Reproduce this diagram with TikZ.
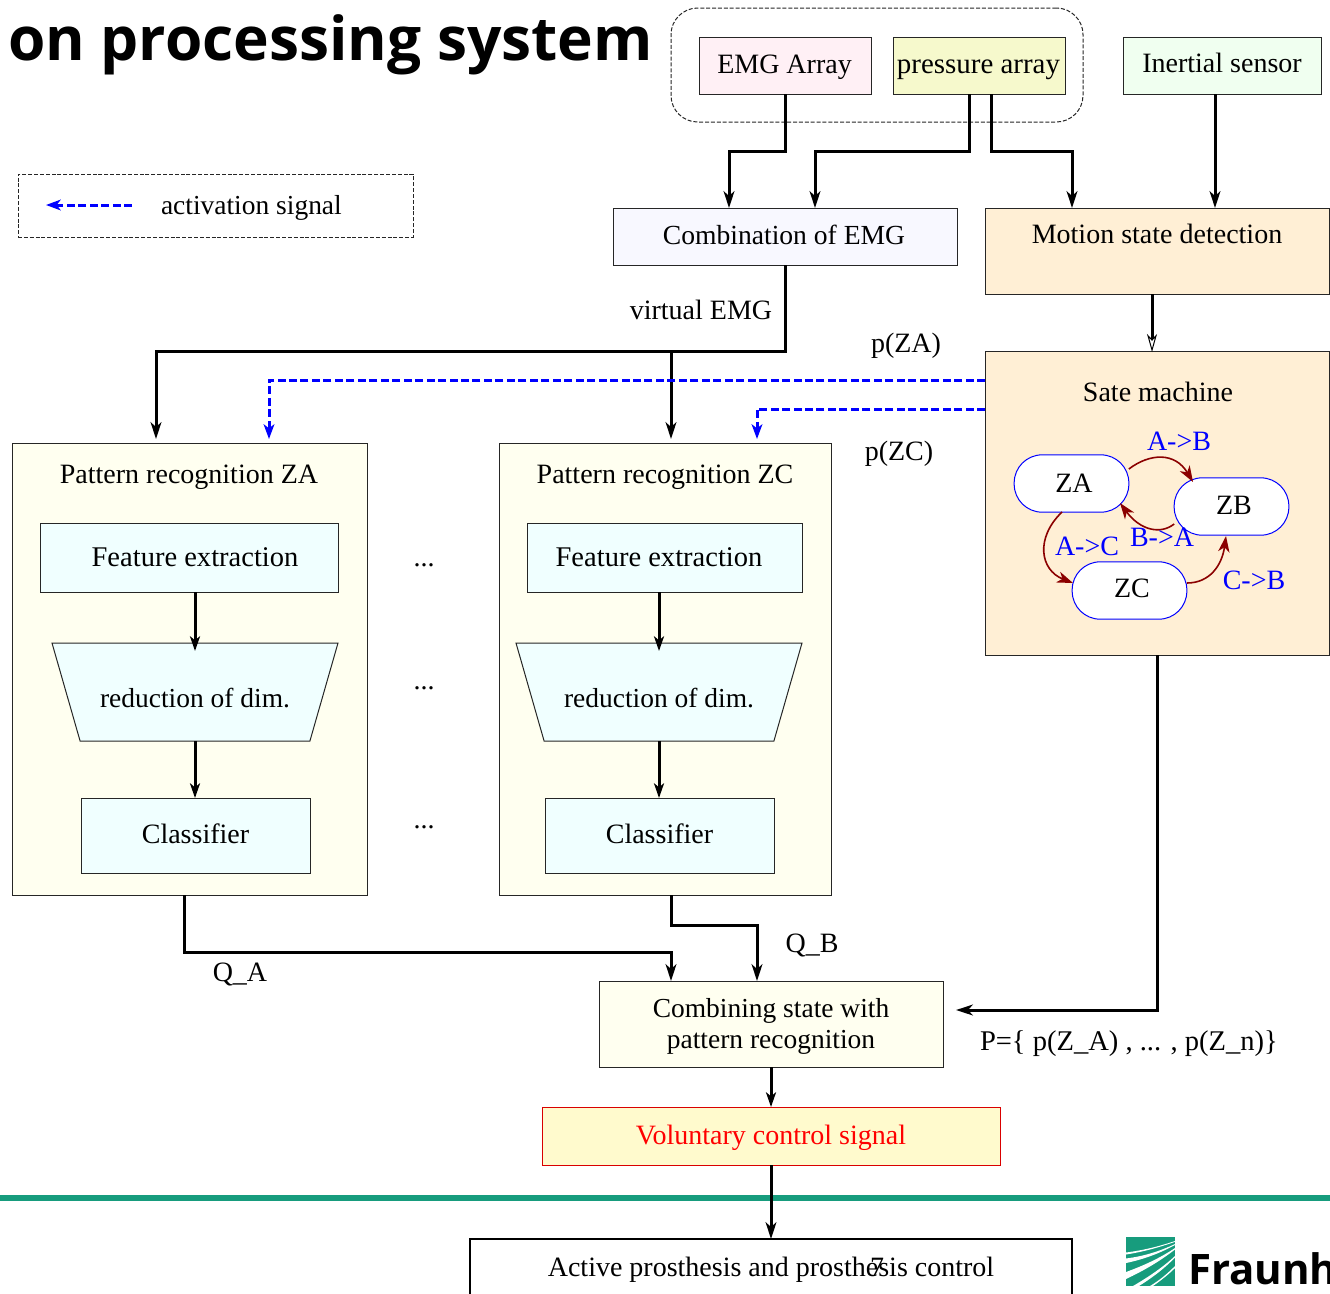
\documentclass[tikz,border=0pt]{standalone}
\usepackage{fontspec}
\setmainfont{Liberation Serif}
\newfontfamily\titlefont{Open Sans}
\usetikzlibrary{arrows.meta,calc,shapes.geometric}
\definecolor{pinkbox}{HTML}{FFF0F5}
\definecolor{yelbox}{HTML}{F6F9CC}
\definecolor{greenbox}{HTML}{F0FFF0}
\definecolor{ghostbox}{HTML}{F8F8FF}
\definecolor{papaya}{HTML}{FFEFD5}
\definecolor{ivorybox}{HTML}{FFFFF0}
\definecolor{azurebox}{HTML}{F0FFFF}
\definecolor{lemonbox}{HTML}{FFFACD}
\definecolor{darkred}{HTML}{8B0000}
\definecolor{fhgreen}{HTML}{179C7D}
\tikzset{
  x=0.75pt,y=-0.75pt,
  every node/.style={font=\fontsize{21}{25}\selectfont,inner sep=0pt,outer sep=0pt,align=center,text height=16pt,text depth=2pt},
  free/.style={text height=,text depth=},
  wh/.style 2 args={minimum width=#1*0.75pt,minimum height=#2*0.75pt},
  pbox/.style={draw=black!85,line width=0.75pt,rectangle},
  dashbox/.style={draw=black!85,line width=0.75pt,dash pattern=on 3pt off 1.4pt},
  state/.style={draw=blue,fill=white,rounded corners=21pt,line width=0.75pt,minimum width=86pt,minimum height=43pt},
  conn/.style={draw=black,line width=2.25pt,-{Stealth[length=12.5pt,width=8pt,inset=3.5pt]}},
  thinconn/.style={draw=black,line width=2.25pt,-{Stealth[length=11pt,width=7.5pt,inset=3pt]}},
  act/.style={draw=blue,line width=2.25pt,dash pattern=on 6pt off 2.6pt,-{Stealth[length=11pt,width=8pt,inset=3pt]}},
  trans/.style={draw=darkred,line width=1.2pt,-{Stealth[length=12pt,width=8.5pt,inset=3.5pt]}},
  lab/.style={text=blue},
  trap/.style={pbox,fill=azurebox,trapezium,shape border rotate=180,trapezium angle=74,trapezium stretches body,minimum width=214.5pt,inner ysep=27.75pt},
}
\begin{document}
\begin{tikzpicture}
\clip (0,0) rectangle (1330,1293);
\fill[white] (0,0) rectangle (1330,1293);
% footer rule
\draw[fhgreen,line width=3.9pt] (0,1198) -- (1330,1198);
% title
\node[free,anchor=base west,font=\titlefont\bfseries\fontsize{45.3}{50}\selectfont] (title) at (8,60) {on processing system};
% group
\node[dashbox,rounded corners=20pt,wh={412}{114}] (group) at (877,65) {};
% legend
\node[dashbox,wh={395}{63}] (legend) at (215.5,205.5) {};
\coordinate (legR) at (132,205);
\coordinate (legL) at (46,205);
\draw[act] (legR) -- (legL);
\node[anchor=west,font=\fontsize{20.6}{25}\selectfont] (legtxt) at (161,205) {activation signal};
% sensors
\node[pbox,fill=pinkbox,wh={172}{57}] (emg) at (785,65.5) {};
\node (emgtxt) at (784.5,64.5) {EMG Array};
\node[pbox,fill=yelbox,wh={172}{57}] (press) at (979,65.5) {};
\node[font=\fontsize{21.7}{25}\selectfont] (presstxt) at (978.5,64.5) {pressure array};
\node[pbox,fill=greenbox,wh={198}{57}] (inert) at (1222,65.5) {};
\node (inerttxt) at (1222,63.5) {Inertial sensor};
% mid
\node[pbox,fill=ghostbox,wh={344}{57}] (comb) at (785,236.5) {};
\node[font=\fontsize{20.7}{25}\selectfont] (combtxt) at (784,235.5) {Combination of EMG};
\node[pbox,fill=papaya,wh={344}{86}] (motion) at (1157,251) {};
\node (motiontxt) at (1157,234) {Motion state detection};
\node[pbox,fill=papaya,wh={344}{304}] (sate) at (1157,503) {};
\node (satetxt) at (1158,392) {Sate machine};
% states
\node[state] (za) at (1071.5,483.5) {\hspace*{3.75pt}ZA};
\node[state] (zb) at (1231.5,506.5) {\hspace*{3.75pt}\raisebox{0.75pt}{ZB}};
\node[state] (zc) at (1129.5,590.5) {\hspace*{3.75pt}\raisebox{1.5pt}{ZC}};
\draw[trans] (za.east |- 1127,469) .. controls (1150,453) and (1175,452) .. (1193,482);
\draw[trans] (zb.south west |- 1179,524) .. controls (1160,535) and (1140,530) .. (1120,503);
\draw[trans] (1062,512) .. controls (1035,538) and (1040,570) .. (1073,583);
\draw[trans] (zc.east |- 1187,583) .. controls (1210,583) and (1222,565) .. (1226,536);
\node[lab] (ab) at (1179,441) {A->B};
\node[lab] (ba) at (1162,537) {B->A};
\node[lab] (ac) at (1087,546) {A->C};
\node[lab] (cb) at (1254,580) {C->B};
% pattern recognition
\node[pbox,fill=ivorybox,wh={355}{452}] (pra) at (189.5,669) {};
\node (pratxt) at (189,474) {Pattern recognition ZA};
\node[pbox,fill=azurebox,wh={298}{69}] (fa) at (189,557.5) {};
\node[font=\fontsize{21.4}{25}\selectfont] (fatxt) at (195,557) {Feature extraction};
\node[trap] (ra) at (195,692) {};
\node[font=\fontsize{20.6}{25}\selectfont] (ratxt) at (195,698) {reduction of dim.};
\node[pbox,fill=azurebox,wh={229}{75}] (ca) at (195.5,835.5) {};
\node (catxt) at (195.5,834.5) {Classifier};
\node[pbox,fill=ivorybox,wh={332}{452}] (prc) at (665,669) {};
\node (prctxt) at (665,474) {Pattern recognition ZC};
\node[pbox,fill=azurebox,wh={275}{69}] (fc) at (664.5,557.5) {};
\node[font=\fontsize{21.4}{25}\selectfont] (fctxt) at (659,557) {Feature extraction};
\node[trap] (rc) at (659,692) {};
\node[font=\fontsize{20.6}{25}\selectfont] (rctxt) at (659,698) {reduction of dim.};
\node[pbox,fill=azurebox,wh={229}{75}] (cc) at (659.5,835.5) {};
\node (cctxt) at (659.5,834.5) {Classifier};
% bottom
\node[pbox,fill=ivorybox,wh={344}{86}] (combine) at (771,1024) {};
\node[free,font=\fontsize{20.6}{25}\selectfont] (combinetxt) at (771,1026.5) {Combining state with\\[-1.2pt]pattern recognition};
\node[draw=red!85!black,line width=0.75pt,fill=lemonbox,wh={458}{58}] (vol) at (771,1136) {};
\node[text=red] (voltxt) at (771,1135) {Voluntary control signal};
\node[draw=black,line width=1.5pt,wh={602}{112}] (active) at (771,1295) {};
\node (acttxt) at (771,1267) {Active prosthesis and prosthesis control};
\node (pagenum) at (877,1267) {7};
% labels
\node (vemg) at (701,310) {virtual EMG};
\node (pza) at (906,343) {p(ZA)};
\node (pzc) at (899,451) {p(ZC)};
\node (d1) at (424,556.7) {...};
\node (d2) at (424,679.7) {...};
\node (d3) at (424,818.7) {...};
\node (qa) at (240,972) {Q\_A};
\node (qb) at (812,943) {Q\_B};
\node[anchor=west,font=\fontsize{21.4}{25}\selectfont] (pset) at (980,1041) {P=\{ p(Z\_A) , ... , p(Z\_n)\}};
% connectors
\draw[conn] (emg.south) -- ++(0,57) -| ($(comb.north)+(-56,0)$);
\draw[conn] ($(press.south)+(-10,0)$) -- ++(0,57) -| ($(comb.north)+(30,0)$);
\draw[conn] ($(press.south)+(12,0)$) -- ++(0,57) -| ($(motion.north)+(-85,0)$);
\draw[conn] ($(inert.south)+(-7,0)$) -- ($(motion.north)+(58,0)$);
\coordinate (split) at ($(comb.south)+(-114,86)$);
\draw[conn] (comb.south) -- ++(0,86) -| ($(pra.north)+(-33.5,-4)$);
\draw[conn] (split) -- ($(prc.north)+(6,-4)$);
\draw[black,line width=2.25pt,-{Stealth[open,fill=white,line width=0.75pt,length=13.5pt,width=7.5pt,inset=4pt]}] ($(motion.south)+(-5,0)$) -- ($(sate.north)+(-5,1)$);
\draw[act] ($(sate.west)+(0,-123)$) -| ($(pra.north)+(79.5,-4)$);
\draw[act] ($(sate.west)+(0,-94)$) -| ($(prc.north)+(92,-4)$);
\draw[conn] (sate.south) -- ++(0,355) -- ($(combine.east)+(13,-14)$);
\draw[thinconn] (fa.south -| ra.north) -- ($(ra.north)+(0,8)$);
\draw[thinconn] (ra.south) -- (ca.north -| ra.south);
\draw[thinconn] (fc.south -| rc.north) -- ($(rc.north)+(0,8)$);
\draw[thinconn] (rc.south) -- (cc.north -| rc.south);
\draw[conn] ($(pra.south)+(-5.5,0)$) -- ++(0,57) -| ($(combine.north)+(-100,0)$);
\draw[conn] ($(prc.south)+(6,0)$) -- ++(0,30) -| ($(combine.north)+(-14,0)$);
\draw[thinconn] (combine.south) -- (vol.north);
\draw[conn] (vol.south) -- (active.north);
% logo
\begin{scope}
\clip (1126,1237) rectangle (1175,1286);
\node[fill=fhgreen,wh={49}{49}] (logo) at (1150.5,1261.5) {};
\fill[white] (1126,1252.5) .. controls (1145,1250) and (1160,1246) .. (1175,1241) -- (1175,1241.8) .. controls (1160,1247) and (1145,1251.5) .. (1126,1254.5) -- cycle;
\fill[white] (1126,1258.5) .. controls (1145,1256) and (1160,1251) .. (1175,1244) -- (1175,1245) .. controls (1160,1253) and (1145,1259) .. (1126,1263) -- cycle;
\fill[white] (1126,1272) .. controls (1145,1265) and (1160,1258) .. (1175,1248) -- (1175,1249.5) .. controls (1160,1261) and (1145,1270) .. (1126,1279) -- cycle;
\fill[white] (1133,1286) .. controls (1150,1276) and (1163,1267) .. (1175,1256) -- (1175,1257.5) .. controls (1163,1270) and (1150,1279) .. (1139,1286) -- cycle;
\fill[white] (1150,1286) .. controls (1160,1280) and (1168,1273) .. (1175,1266) -- (1175,1268) .. controls (1168,1275) and (1160,1281) .. (1153,1286) -- cycle;
\end{scope}
\node[free,anchor=base west,font=\titlefont\bfseries\fontsize{31.5}{36}\selectfont] (fhtxt) at (1188,1284) {Fraunh};
\end{tikzpicture}
\end{document}
